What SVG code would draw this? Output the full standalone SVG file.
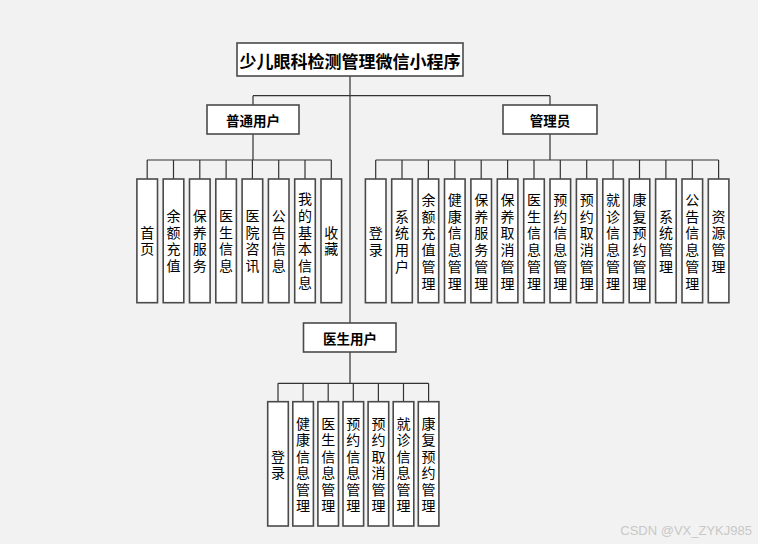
<svg xmlns="http://www.w3.org/2000/svg" width="758" height="544" viewBox="0 0 758 544">
<style>
.bg{fill:#f2f2f2}
.box{fill:#ffffff;stroke:#4a4a4a;stroke-width:1.6}
.ln{fill:none;stroke:#333333;stroke-width:1.2}
.t{font-family:"Noto Sans CJK SC","Noto Sans",sans-serif;fill:#000;text-anchor:middle;dominant-baseline:central}
.h{font-weight:bold}
.v{font-size:14px}
.wm{font-family:"Liberation Sans",Arial,sans-serif;font-size:13px;fill:#c8c8c8}
</style>
<rect class="bg" x="0" y="0" width="758" height="544"/>
<g id="connectors">
<path class="ln" d="M350,76 V323 M253,95.7 H550 M253,95.7 V105 M550,95.7 V105"/>
<path class="ln" d="M253,134 V160 M147,160 H331.5 M147.2,160 V179 M173.5,160 V179 M199.8,160 V179 M226.1,160 V179 M252.4,160 V179 M278.7,160 V179 M305,160 V179 M331.3,160 V179"/>
<path class="ln" d="M550,134 V160 M375.7,160 H718.6 M375.7,160 V179 M402,160 V179 M428.4,160 V179 M454.8,160 V179 M481.2,160 V179 M507.6,160 V179 M534,160 V179 M560.3,160 V179 M586.7,160 V179 M613.1,160 V179 M639.5,160 V179 M665.9,160 V179 M692.3,160 V179 M718.6,160 V179"/>
<path class="ln" d="M350,352 V383.3 M278,383.3 H428.6 M278,383.3 V401.7 M303.1,383.3 V401.7 M328.2,383.3 V401.7 M353.3,383.3 V401.7 M378.4,383.3 V401.7 M403.5,383.3 V401.7 M428.6,383.3 V401.7"/>
</g>
<g id="root"><rect class="box" x="237" y="43" width="226" height="33"/><text class="t h" x="350" y="60" font-size="17">少儿眼科检测管理微信小程序</text></g>
<g id="user"><rect class="box" x="207" y="105" width="92" height="29"/><text class="t h" x="253" y="120" font-size="13.5">普通用户</text></g>
<g id="admin"><rect class="box" x="503" y="105" width="94" height="29"/><text class="t h" x="550" y="120" font-size="13.5">管理员</text></g>
<g id="doctor"><rect class="box" x="303.5" y="323" width="92.5" height="29"/><text class="t h" x="350" y="337.5" font-size="13.5">医生用户</text></g>

<g id="u1"><rect class="box" x="136.9" y="179" width="20.6" height="123.7"/><text class="t v" x="147.2"><tspan x="147.2" y="231.7">首</tspan><tspan x="147.2" y="248.4">页</tspan></text></g>
<g id="u2"><rect class="box" x="163.2" y="179" width="20.6" height="123.7"/><text class="t v"><tspan x="173.5" y="215">余</tspan><tspan x="173.5" y="231.7">额</tspan><tspan x="173.5" y="248.4">充</tspan><tspan x="173.5" y="265.1">值</tspan></text></g>
<g id="u3"><rect class="box" x="189.5" y="179" width="20.6" height="123.7"/><text class="t v"><tspan x="199.8" y="215">保</tspan><tspan x="199.8" y="231.7">养</tspan><tspan x="199.8" y="248.4">服</tspan><tspan x="199.8" y="265.1">务</tspan></text></g>
<g id="u4"><rect class="box" x="215.8" y="179" width="20.6" height="123.7"/><text class="t v"><tspan x="226.1" y="215">医</tspan><tspan x="226.1" y="231.7">生</tspan><tspan x="226.1" y="248.4">信</tspan><tspan x="226.1" y="265.1">息</tspan></text></g>
<g id="u5"><rect class="box" x="242.1" y="179" width="20.6" height="123.7"/><text class="t v"><tspan x="252.4" y="215">医</tspan><tspan x="252.4" y="231.7">院</tspan><tspan x="252.4" y="248.4">咨</tspan><tspan x="252.4" y="265.1">讯</tspan></text></g>
<g id="u6"><rect class="box" x="268.4" y="179" width="20.6" height="123.7"/><text class="t v"><tspan x="278.7" y="215">公</tspan><tspan x="278.7" y="231.7">告</tspan><tspan x="278.7" y="248.4">信</tspan><tspan x="278.7" y="265.1">息</tspan></text></g>
<g id="u7"><rect class="box" x="294.7" y="179" width="20.6" height="123.7"/><text class="t v"><tspan x="305" y="198.3">我</tspan><tspan x="305" y="215">的</tspan><tspan x="305" y="231.7">基</tspan><tspan x="305" y="248.4">本</tspan><tspan x="305" y="265.1">信</tspan><tspan x="305" y="281.8">息</tspan></text></g>
<g id="u8"><rect class="box" x="321" y="179" width="20.6" height="123.7"/><text class="t v"><tspan x="331.3" y="231.7">收</tspan><tspan x="331.3" y="248.4">藏</tspan></text></g>

<g id="a1"><rect class="box" x="365.4" y="179" width="20.6" height="123.7"/><text class="t v"><tspan x="375.7" y="232">登</tspan><tspan x="375.7" y="248.7">录</tspan></text></g>
<g id="a2"><rect class="box" x="391.7" y="179" width="20.6" height="123.7"/><text class="t v"><tspan x="402" y="215.5">系</tspan><tspan x="402" y="232.2">统</tspan><tspan x="402" y="248.9">用</tspan><tspan x="402" y="265.6">户</tspan></text></g>
<g id="a3"><rect class="box" x="418.1" y="179" width="20.6" height="123.7"/><text class="t v"><tspan x="428.4" y="199">余</tspan><tspan x="428.4" y="215.7">额</tspan><tspan x="428.4" y="232.4">充</tspan><tspan x="428.4" y="249.1">值</tspan><tspan x="428.4" y="265.8">管</tspan><tspan x="428.4" y="282.5">理</tspan></text></g>
<g id="a4"><rect class="box" x="444.5" y="179" width="20.6" height="123.7"/><text class="t v"><tspan x="454.8" y="199">健</tspan><tspan x="454.8" y="215.7">康</tspan><tspan x="454.8" y="232.4">信</tspan><tspan x="454.8" y="249.1">息</tspan><tspan x="454.8" y="265.8">管</tspan><tspan x="454.8" y="282.5">理</tspan></text></g>
<g id="a5"><rect class="box" x="470.9" y="179" width="20.6" height="123.7"/><text class="t v"><tspan x="481.2" y="199">保</tspan><tspan x="481.2" y="215.7">养</tspan><tspan x="481.2" y="232.4">服</tspan><tspan x="481.2" y="249.1">务</tspan><tspan x="481.2" y="265.8">管</tspan><tspan x="481.2" y="282.5">理</tspan></text></g>
<g id="a6"><rect class="box" x="497.3" y="179" width="20.6" height="123.7"/><text class="t v"><tspan x="507.6" y="199">保</tspan><tspan x="507.6" y="215.7">养</tspan><tspan x="507.6" y="232.4">取</tspan><tspan x="507.6" y="249.1">消</tspan><tspan x="507.6" y="265.8">管</tspan><tspan x="507.6" y="282.5">理</tspan></text></g>
<g id="a7"><rect class="box" x="523.7" y="179" width="20.6" height="123.7"/><text class="t v"><tspan x="534" y="199">医</tspan><tspan x="534" y="215.7">生</tspan><tspan x="534" y="232.4">信</tspan><tspan x="534" y="249.1">息</tspan><tspan x="534" y="265.8">管</tspan><tspan x="534" y="282.5">理</tspan></text></g>
<g id="a8"><rect class="box" x="550" y="179" width="20.6" height="123.7"/><text class="t v"><tspan x="560.3" y="199">预</tspan><tspan x="560.3" y="215.7">约</tspan><tspan x="560.3" y="232.4">信</tspan><tspan x="560.3" y="249.1">息</tspan><tspan x="560.3" y="265.8">管</tspan><tspan x="560.3" y="282.5">理</tspan></text></g>
<g id="a9"><rect class="box" x="576.4" y="179" width="20.6" height="123.7"/><text class="t v"><tspan x="586.7" y="199">预</tspan><tspan x="586.7" y="215.7">约</tspan><tspan x="586.7" y="232.4">取</tspan><tspan x="586.7" y="249.1">消</tspan><tspan x="586.7" y="265.8">管</tspan><tspan x="586.7" y="282.5">理</tspan></text></g>
<g id="a10"><rect class="box" x="602.8" y="179" width="20.6" height="123.7"/><text class="t v"><tspan x="613.1" y="199">就</tspan><tspan x="613.1" y="215.7">诊</tspan><tspan x="613.1" y="232.4">信</tspan><tspan x="613.1" y="249.1">息</tspan><tspan x="613.1" y="265.8">管</tspan><tspan x="613.1" y="282.5">理</tspan></text></g>
<g id="a11"><rect class="box" x="629.2" y="179" width="20.6" height="123.7"/><text class="t v"><tspan x="639.5" y="199">康</tspan><tspan x="639.5" y="215.7">复</tspan><tspan x="639.5" y="232.4">预</tspan><tspan x="639.5" y="249.1">约</tspan><tspan x="639.5" y="265.8">管</tspan><tspan x="639.5" y="282.5">理</tspan></text></g>
<g id="a12"><rect class="box" x="655.6" y="179" width="20.6" height="123.7"/><text class="t v"><tspan x="665.9" y="215.5">系</tspan><tspan x="665.9" y="232.2">统</tspan><tspan x="665.9" y="248.9">管</tspan><tspan x="665.9" y="265.6">理</tspan></text></g>
<g id="a13"><rect class="box" x="682" y="179" width="20.6" height="123.7"/><text class="t v"><tspan x="692.3" y="199">公</tspan><tspan x="692.3" y="215.7">告</tspan><tspan x="692.3" y="232.4">信</tspan><tspan x="692.3" y="249.1">息</tspan><tspan x="692.3" y="265.8">管</tspan><tspan x="692.3" y="282.5">理</tspan></text></g>
<g id="a14"><rect class="box" x="708.3" y="179" width="20.6" height="123.7"/><text class="t v"><tspan x="718.6" y="215.5">资</tspan><tspan x="718.6" y="232.2">源</tspan><tspan x="718.6" y="248.9">管</tspan><tspan x="718.6" y="265.6">理</tspan></text></g>

<g id="d1"><rect class="box" x="267.7" y="401.7" width="20.6" height="124.3"/><text class="t v"><tspan x="278" y="455.7">登</tspan><tspan x="278" y="472.3">录</tspan></text></g>
<g id="d2"><rect class="box" x="292.8" y="401.7" width="20.6" height="124.3"/><text class="t v"><tspan x="303.1" y="422.5">健</tspan><tspan x="303.1" y="439">康</tspan><tspan x="303.1" y="455.5">信</tspan><tspan x="303.1" y="472">息</tspan><tspan x="303.1" y="488.5">管</tspan><tspan x="303.1" y="505">理</tspan></text></g>
<g id="d3"><rect class="box" x="317.9" y="401.7" width="20.6" height="124.3"/><text class="t v"><tspan x="328.2" y="422.5">医</tspan><tspan x="328.2" y="439">生</tspan><tspan x="328.2" y="455.5">信</tspan><tspan x="328.2" y="472">息</tspan><tspan x="328.2" y="488.5">管</tspan><tspan x="328.2" y="505">理</tspan></text></g>
<g id="d4"><rect class="box" x="343" y="401.7" width="20.6" height="124.3"/><text class="t v"><tspan x="353.3" y="422.5">预</tspan><tspan x="353.3" y="439">约</tspan><tspan x="353.3" y="455.5">信</tspan><tspan x="353.3" y="472">息</tspan><tspan x="353.3" y="488.5">管</tspan><tspan x="353.3" y="505">理</tspan></text></g>
<g id="d5"><rect class="box" x="368.1" y="401.7" width="20.6" height="124.3"/><text class="t v"><tspan x="378.4" y="422.5">预</tspan><tspan x="378.4" y="439">约</tspan><tspan x="378.4" y="455.5">取</tspan><tspan x="378.4" y="472">消</tspan><tspan x="378.4" y="488.5">管</tspan><tspan x="378.4" y="505">理</tspan></text></g>
<g id="d6"><rect class="box" x="393.2" y="401.7" width="20.6" height="124.3"/><text class="t v"><tspan x="403.5" y="422.5">就</tspan><tspan x="403.5" y="439">诊</tspan><tspan x="403.5" y="455.5">信</tspan><tspan x="403.5" y="472">息</tspan><tspan x="403.5" y="488.5">管</tspan><tspan x="403.5" y="505">理</tspan></text></g>
<g id="d7"><rect class="box" x="418.3" y="401.7" width="20.6" height="124.3"/><text class="t v"><tspan x="428.6" y="422.5">康</tspan><tspan x="428.6" y="439">复</tspan><tspan x="428.6" y="455.5">预</tspan><tspan x="428.6" y="472">约</tspan><tspan x="428.6" y="488.5">管</tspan><tspan x="428.6" y="505">理</tspan></text></g>

<text class="wm" x="752" y="535" text-anchor="end">CSDN @VX_ZYKJ985</text>
</svg>
